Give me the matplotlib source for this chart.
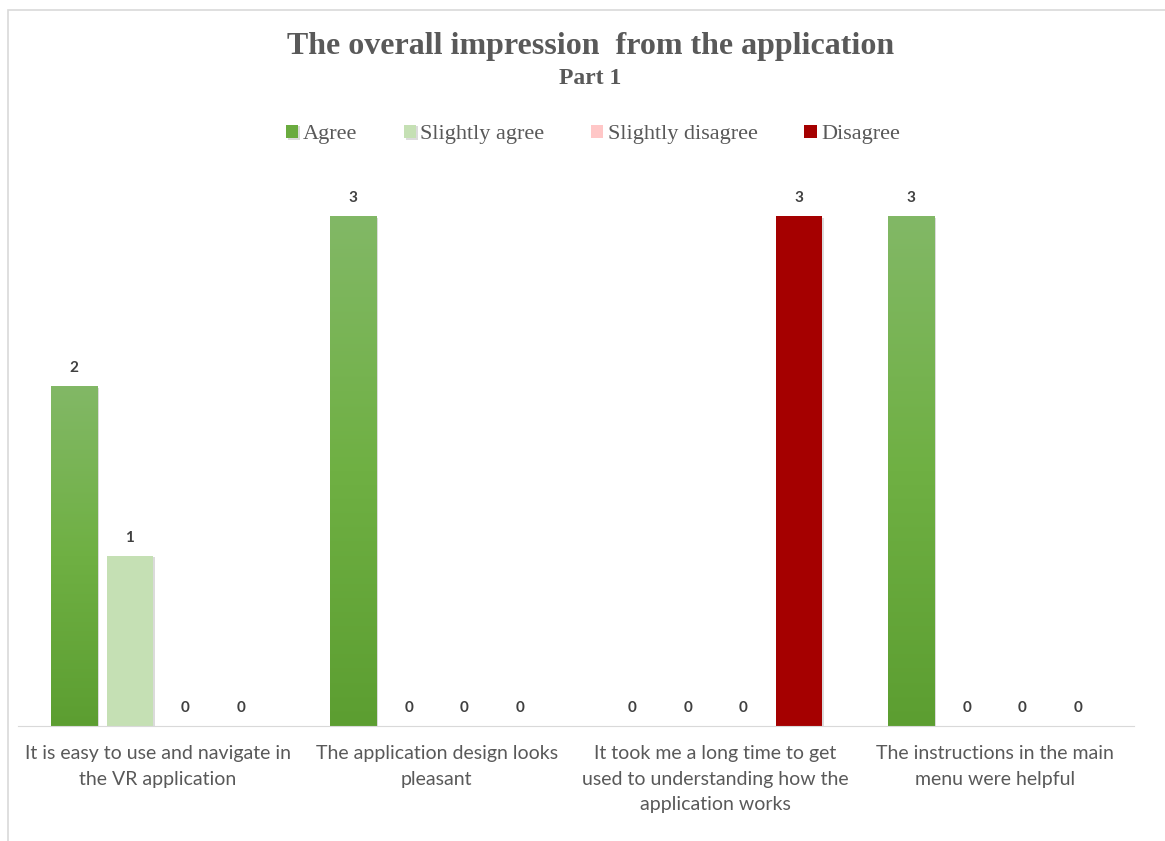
import numpy as np
import matplotlib.pyplot as plt
import matplotlib.patheffects as pe
from matplotlib.colors import LinearSegmentedColormap
from matplotlib.patches import Rectangle

statements = [
    "It is easy to use and navigate in\nthe VR application",
    "The application design looks\npleasant",
    "It took me a long time to get\nused to understanding how the\napplication works",
    "The instructions in the main\nmenu were helpful",
]
responses = ["Agree", "Slightly agree", "Slightly disagree", "Disagree"]
agree = [2, 3, 0, 3]
slightly_agree = [1, 0, 0, 0]
slightly_disagree = [0, 0, 0, 0]
disagree = [0, 0, 3, 0]

colors = ["#6aab3f", "#c5e0b4", "#ffc7c7", "#a50000"]
text_gray = "#595959"

fig = plt.figure(figsize=(11.65, 8.41), dpi=100)
ax = fig.add_axes([0.0155, 0.1367, 0.958, 0.687])

# light frame around the chart area
fig.patches.append(Rectangle((8 / 1165, -0.01), 1.2, 1 - 10 / 841 + 0.01,
                             transform=fig.transFigure, fill=False,
                             edgecolor="#d9d9d9", linewidth=1.2))

x = np.arange(len(statements))
step = 0.2
width = 0.165
series = [agree, slightly_agree, slightly_disagree, disagree]
shadow = [pe.SimplePatchShadow(offset=(1.5, -1), shadow_rgbFace="#999999", alpha=0.35), pe.Normal()]

green_grad = LinearSegmentedColormap.from_list("g", ["#5c9e31", "#6fb043", "#82b866"])
for i, (name, vals) in enumerate(zip(responses, series)):
    pos = x + (i - 1.5) * step
    bars = ax.bar(pos, vals, width, color=colors[i], label=name, zorder=2)
    for b, v in zip(bars, vals):
        if v > 0:
            b.set_path_effects(shadow)
            if i == 0:
                # vertical gradient fill for the green bars
                grad = np.linspace(0, 1, 256).reshape(-1, 1)
                ax.imshow(grad, cmap=green_grad, origin="lower", aspect="auto",
                          extent=(b.get_x(), b.get_x() + width, 0, v), zorder=3)
        ax.annotate(f"{v}", (b.get_x() + width / 2, v), xytext=(0, 8),
                    textcoords="offset points", ha="center", va="bottom",
                    fontsize=11, fontweight="bold", color="#404040",
                    family="Lato")

ax.set_xlim(-0.5, len(statements) - 0.5)
ax.set_ylim(0, 3.4)
ax.set_xticks(x)
ax.set_xticklabels(statements, fontsize=14, color=text_gray, family="Lato",
                   linespacing=1.6)
ax.tick_params(axis="x", length=0, pad=14)
ax.set_yticks([])
for s in ["top", "right", "left"]:
    ax.spines[s].set_visible(False)
ax.spines["bottom"].set_color("#d9d9d9")
ax.spines["bottom"].set_zorder(4)

fig.text(0.507, 0.945, "The overall impression  from the application",
         ha="center", va="center", fontsize=23, fontweight="bold",
         family="Liberation Serif", color=text_gray)
fig.text(0.507, 0.907, "Part 1", ha="center", va="center", fontsize=17,
         fontweight="bold", family="Liberation Serif", color=text_gray)

leg = fig.legend(loc="center", bbox_to_anchor=(0.509, 0.84), ncol=4,
                 frameon=False, handlelength=0.55, handleheight=0.55,
                 handletextpad=0.2, columnspacing=2.1,
                 prop={"family": "Liberation Serif", "size": 16})
for t in leg.get_texts():
    t.set_color(text_gray)

fig.savefig("out.png", dpi=100)
